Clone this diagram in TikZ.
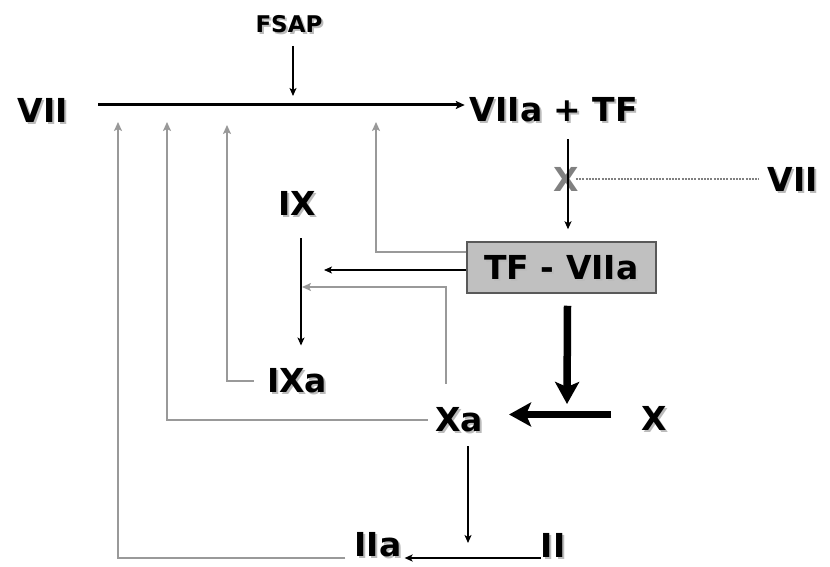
\documentclass[tikz,border=0pt]{standalone}
\usepackage{fontspec}
\setmainfont{DejaVu Sans}
\usepackage{xcolor}
\usetikzlibrary{arrows.meta}
\definecolor{linegray}{HTML}{999999}
\definecolor{boxgray}{HTML}{C0C0C0}
\definecolor{shade}{HTML}{BBBBBB}
\newcommand{\shadowed}[1]{\rlap{\hspace{2pt}\smash{\raisebox{-2pt}{\textcolor{shade}{#1}}}}#1}
\tikzstyle{factor} = [inner sep=0pt, font=\fontsize{33}{36}\selectfont\bfseries]
\tikzstyle{cofactor} = [inner sep=0pt, font=\fontsize{23}{26}\selectfont\bfseries]
\tikzstyle{complex} = [rectangle, draw=black!65, line width=1.5pt, fill=boxgray, minimum width=189pt, minimum height=51pt, text centered, font=\fontsize{33}{36}\selectfont\bfseries]
\tikzstyle{arrow} = [line width=2pt, -{Stealth[length=8pt,width=7pt,inset=2pt]}]
\tikzstyle{mainline} = [line width=3pt, -{Stealth[length=9pt,width=8pt,inset=2pt]}]
\tikzstyle{feedback} = [linegray, line width=2.6pt, -{Stealth[length=9pt,width=8pt,inset=2pt]}]
\tikzstyle{thickarrow} = [line width=7.5pt, -{Stealth[length=22pt,width=24pt,inset=5pt]}]
\tikzstyle{blocked} = [color=black!50, line width=2.5pt, dash pattern=on 2pt off 1.2pt]

\begin{document}
\begin{tikzpicture}[x=1pt, y=-1pt]
      \useasboundingbox (0,0) rectangle (830,567);
      \node (fsap)[cofactor] at (289,24) {\shadowed{FSAP}};
      \node (vii)[factor] at (43,110) {\shadowed{VII}};
      \node (viia)[factor] at (554,110) {\shadowed{VIIa + TF}};
      \node (block)[factor, text=black!50] at (566,179) {X};
      \node (vii2)[factor] at (793,179) {\shadowed{VII}};
      \node (tf)[complex] at (561.5,267.5) {\shadowed{TF - VIIa}};
      \node (ix)[factor] at (297,203) {\shadowed{IX}};
      \node (ixa)[factor] at (297,381) {\shadowed{IXa}};
      \node (xa)[factor] at (459,420) {\shadowed{Xa}};
      \node (x)[factor] at (654,418) {\shadowed{X}};
      \node (iia)[factor] at (378,545) {\shadowed{IIa}};
      \node (ii)[factor] at (553,545) {\shadowed{II}};
      % points where the arrows land
      \coordinate (fsaphit) at (293,96);
      \coordinate (ixhit1) at (324,270);
      \coordinate (ixhit2) at (302,287);
      \coordinate (xhit) at (567,404);
      \coordinate (iihit) at (468,543);
      \coordinate (m1) at (118,122);
      \coordinate (m2) at (167,122);
      \coordinate (m3) at (227,125);
      \coordinate (m4) at (376,122);
      % extrinsic pathway
      \draw[mainline] ([xshift=30pt,yshift=5pt]vii.east) -- ([xshift=-5pt,yshift=5pt]viia.west);
      \draw[arrow] ([xshift=4pt,yshift=-13pt]fsap.south) -- (fsaphit);
      \draw[arrow] ([xshift=14pt,yshift=-17pt]viia.south) -- ([xshift=6.5pt,yshift=12pt]tf.north);
      \draw[blocked] ([xshift=-3pt]block.east) -- ([xshift=-9pt]vii2.west);
      \draw[arrow] ([yshift=-2.5pt]tf.west) -- (ixhit1);
      \draw[thickarrow] ([xshift=6pt,yshift=-12pt]tf.south) -- (xhit);
      \draw[thickarrow] ([xshift=-30pt,yshift=3.5pt]x.west) -- ([xshift=26pt,yshift=5.5pt]xa.east);
      % intrinsic pathway
      \draw[arrow] ([xshift=4pt,yshift=-23pt]ix.south) -- ([xshift=4pt,yshift=23pt]ixa.north);
      \draw[arrow] ([xshift=9pt,yshift=-14pt]xa.south) -- (iihit);
      \draw[arrow] ([yshift=-13pt]ii.west) -- ([xshift=3pt,yshift=-13pt]iia.east);
      % feedback
      \draw[feedback] ([yshift=15.5pt]tf.west) -| (m4);
      \draw[feedback] ([xshift=-13pt,yshift=24pt]xa.north) |- (ixhit2);
      \draw[feedback] ([xshift=-13pt]ixa.west) -| (m3);
      \draw[feedback] ([xshift=-7pt]xa.west) -| (m2);
      \draw[feedback] ([xshift=-9pt,yshift=-13pt]iia.west) -| (m1);
    \end{tikzpicture}
\end{document}
